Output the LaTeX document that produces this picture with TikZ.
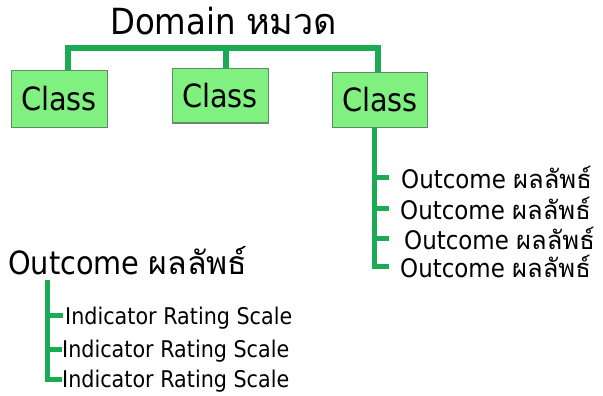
\documentclass[tikz,border=0pt]{standalone}
\usepackage{fontspec}
\setmainfont{DejaVu Sans}[FakeStretch=0.9]
\newfontfamily\thai[Script=Thai]{Loma}
\definecolor{linegreen}{RGB}{28,170,84}
\definecolor{boxfill}{RGB}{128,240,128}
\definecolor{boxdraw}{RGB}{100,140,100}
\tikzset{
  classbox/.style={draw=boxdraw, line width=1pt, fill=boxfill, inner sep=0, font=\fontsize{32}{32}\selectfont},
  txt/.style={inner sep=0, anchor=base west},
  conn/.style={draw=linegreen, line width=6pt, line join=miter},
  thin conn/.style={draw=linegreen, line width=5pt, line join=miter}
}
\begin{document}
\begin{tikzpicture}[x=1pt, y=-1pt]
\useasboundingbox (0,0) rectangle (603,396);
\fill[white] (0,0) rectangle (603,396);
% title
\node[txt, font=\fontsize{36}{36}\selectfont] (dom) at (110,35) {Domain {\thai หมวด}};
% class boxes
\node[classbox, minimum width=96pt, minimum height=56pt] (c1) at (59,99) {Class};
\node[classbox, minimum width=96pt, minimum height=54pt] (c2) at (220,96) {Class};
\node[classbox, minimum width=95pt, minimum height=55pt] (c3) at (380,100) {Class};
% bar coordinates
\coordinate (b1) at (68,48.5);
\coordinate (b2) at (226,48.5);
\coordinate (b3) at (378,48.5);
\draw[conn] (c1.north -| b1) -- (b1) -- (b3) -- (c3.north -| b3);
\draw[conn] (b2) -- (c2.north -| b2);
% right outcomes
\node[txt, font=\fontsize{25.5}{25.5}\selectfont] (o1) at (401,188) {Outcome {\thai ผลลัพธ์}};
\node[txt, font=\fontsize{25.5}{25.5}\selectfont] (o2) at (400,219) {Outcome {\thai ผลลัพธ์}};
\node[txt, font=\fontsize{25.5}{25.5}\selectfont] (o3) at (404,249) {Outcome {\thai ผลลัพธ์}};
\node[txt, font=\fontsize{25.5}{25.5}\selectfont] (o4) at (400,277) {Outcome {\thai ผลลัพธ์}};
\coordinate (t0) at (374,0);
\coordinate (s1) at (389,177);
\coordinate (s2) at (389,208);
\coordinate (s3) at (389,238);
\coordinate (s4) at (389,266);
\draw[thin conn] (c3.south -| t0) -- (t0 |- s4) -- (s4);
\draw[thin conn] (t0 |- s1) -- (s1);
\draw[thin conn] (t0 |- s2) -- (s2);
\draw[thin conn] (t0 |- s3) -- (s3);
% left outcome
\node[txt, font=\fontsize{32}{32}\selectfont] (lo) at (8,274) {Outcome {\thai ผลลัพธ์}};
\node[txt, font=\fontsize{23}{23}\selectfont] (i1) at (65,324) {Indicator Rating Scale};
\node[txt, font=\fontsize{23}{23}\selectfont] (i2) at (62,357) {Indicator Rating Scale};
\node[txt, font=\fontsize{23}{23}\selectfont] (i3) at (62,387) {Indicator Rating Scale};
\coordinate (l0) at (47,280);
\coordinate (u1) at (63,315);
\coordinate (u2) at (62,349);
\coordinate (u3) at (62,379);
\draw[thin conn] (l0) -- (l0 |- u3) -- (u3);
\draw[thin conn] (l0 |- u1) -- (u1);
\draw[thin conn] (l0 |- u2) -- (u2);
\end{tikzpicture}
\end{document}
